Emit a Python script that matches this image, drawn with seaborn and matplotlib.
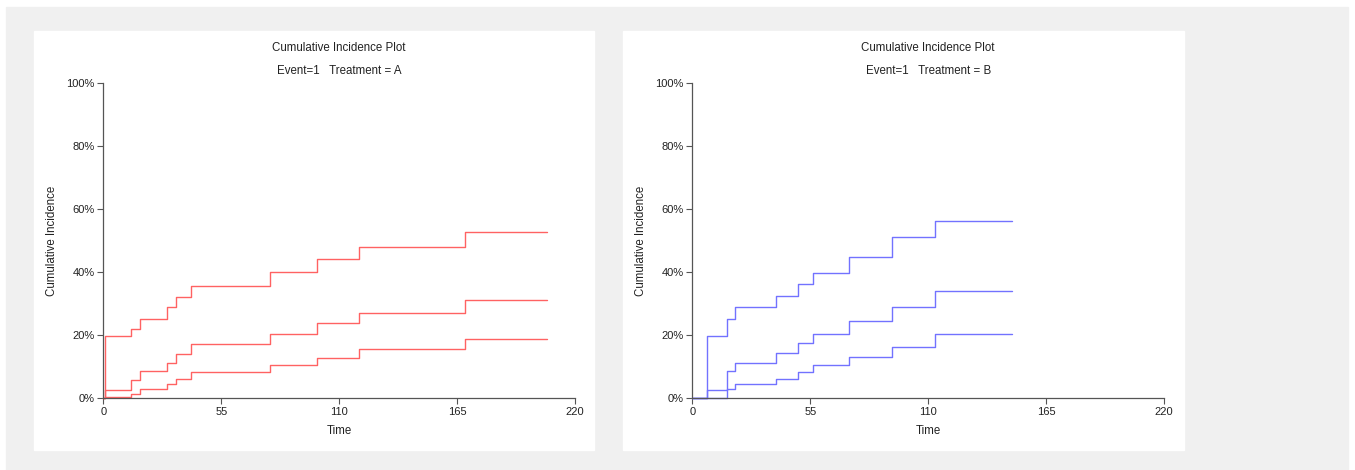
import pandas as pd
import matplotlib
matplotlib.use('Agg')
import matplotlib.pyplot as plt
import seaborn as sns
from matplotlib.patches import Rectangle

sns.set_style('white')
plt.rcParams['font.family'] = ['Liberation Sans', 'DejaVu Sans']

# Treatment A: time points and step values (%)
time_a = [0, 1, 12.8, 17.1, 29.8, 34.0, 41.0, 77.9, 99.9, 119.2, 168.8, 206.9]
upper_a = [0, 19.7, 21.9, 25.1, 28.8, 32.1, 35.7, 39.9, 44.2, 48.0, 52.8, 52.8]
est_a = [0, 2.6, 5.7, 8.6, 11.3, 14.2, 17.2, 20.4, 23.8, 27.2, 31.3, 31.3]
lower_a = [0, 0.3, 1.3, 2.8, 4.5, 6.2, 8.3, 10.5, 12.9, 15.6, 18.8, 18.8]

# Treatment B
time_b = [0, 7, 16, 20, 39.2, 49.1, 56.1, 73.2, 93.1, 113.1, 149.2]
upper_b = [0, 19.9, 25.1, 28.8, 32.5, 36.1, 39.7, 44.7, 51.0, 56.1, 56.1]
est_b = [0, 2.6, 8.5, 11.3, 14.3, 17.5, 20.4, 24.5, 29.1, 33.9, 33.9]
lower_b = [0, 0.2, 2.8, 4.5, 6.2, 8.3, 10.5, 13.2, 16.4, 20.3, 20.3]

x_ticks = [0, 55, 110, 165, 220]
y_ticks = [0, 20, 40, 60, 80, 100]
y_labels = ['0%', '20%', '40%', '60%', '80%', '100%']

W, H = 1355, 470
fig = plt.figure(figsize=(W / 100, H / 100), dpi=100, facecolor='white')

# gray backdrop and white panels (pixel coords)
def px_rect(x0, y0, x1, y1, color):
    fig.patches.append(Rectangle((x0 / W, 1 - y1 / H), (x1 - x0) / W, (y1 - y0) / H,
                                 transform=fig.transFigure, color=color, zorder=-10))

px_rect(6, 7, 1348, 470, '#f0f0f0')
px_rect(34, 31, 594, 450, 'white')
px_rect(623, 31, 1184, 450, 'white')

panels = [
    (103.3, 'A', time_a, [upper_a, est_a, lower_a], '#ff6262'),
    (692.3, 'B', time_b, [upper_b, est_b, lower_b], '#7272ff'),
]

for left_px, trt, times, curves, color in panels:
    ax = fig.add_axes([left_px / W, 1 - 398.3 / H, (575 - 103.3) / W, (398.3 - 83) / H])
    ax.set_facecolor('none')
    for vals in curves:
        df = pd.DataFrame({'Time': times, 'CI': vals})
        sns.lineplot(data=df, x='Time', y='CI', ax=ax, color=color, linewidth=1.0,
                     drawstyle='steps-post', estimator=None, clip_on=False)
    ax.set_xlim(0, 220)
    ax.set_ylim(0, 100)
    ax.set_xticks(x_ticks)
    ax.set_yticks(y_ticks)
    ax.set_yticklabels(y_labels)
    for s in ['top', 'right']:
        ax.spines[s].set_visible(False)
    for s in ['left', 'bottom']:
        ax.spines[s].set_color('#555555')
        ax.spines[s].set_linewidth(0.9)
    ax.tick_params(axis='both', direction='out', length=4, width=0.8, color='#555555',
                   labelsize=8, labelcolor='#222222', pad=2)
    ax.tick_params(left=True, bottom=True)
    ax.set_xlabel('Time', fontsize=8.3, color='#222222', labelpad=6)
    ax.set_ylabel('Cumulative Incidence', fontsize=8.3, color='#222222', labelpad=6)
    cx = (left_px + 575 - 103.3 + left_px) / 2 / W
    fig.text(cx, 1 - 48 / H, 'Cumulative Incidence Plot', ha='center', va='center',
             fontsize=8.3, color='#222222')
    fig.text(cx, 1 - 71 / H, f'Event=1   Treatment = {trt}', ha='center', va='center',
             fontsize=8.3, color='#222222')

fig.savefig('out.png', dpi=100, facecolor='white')
